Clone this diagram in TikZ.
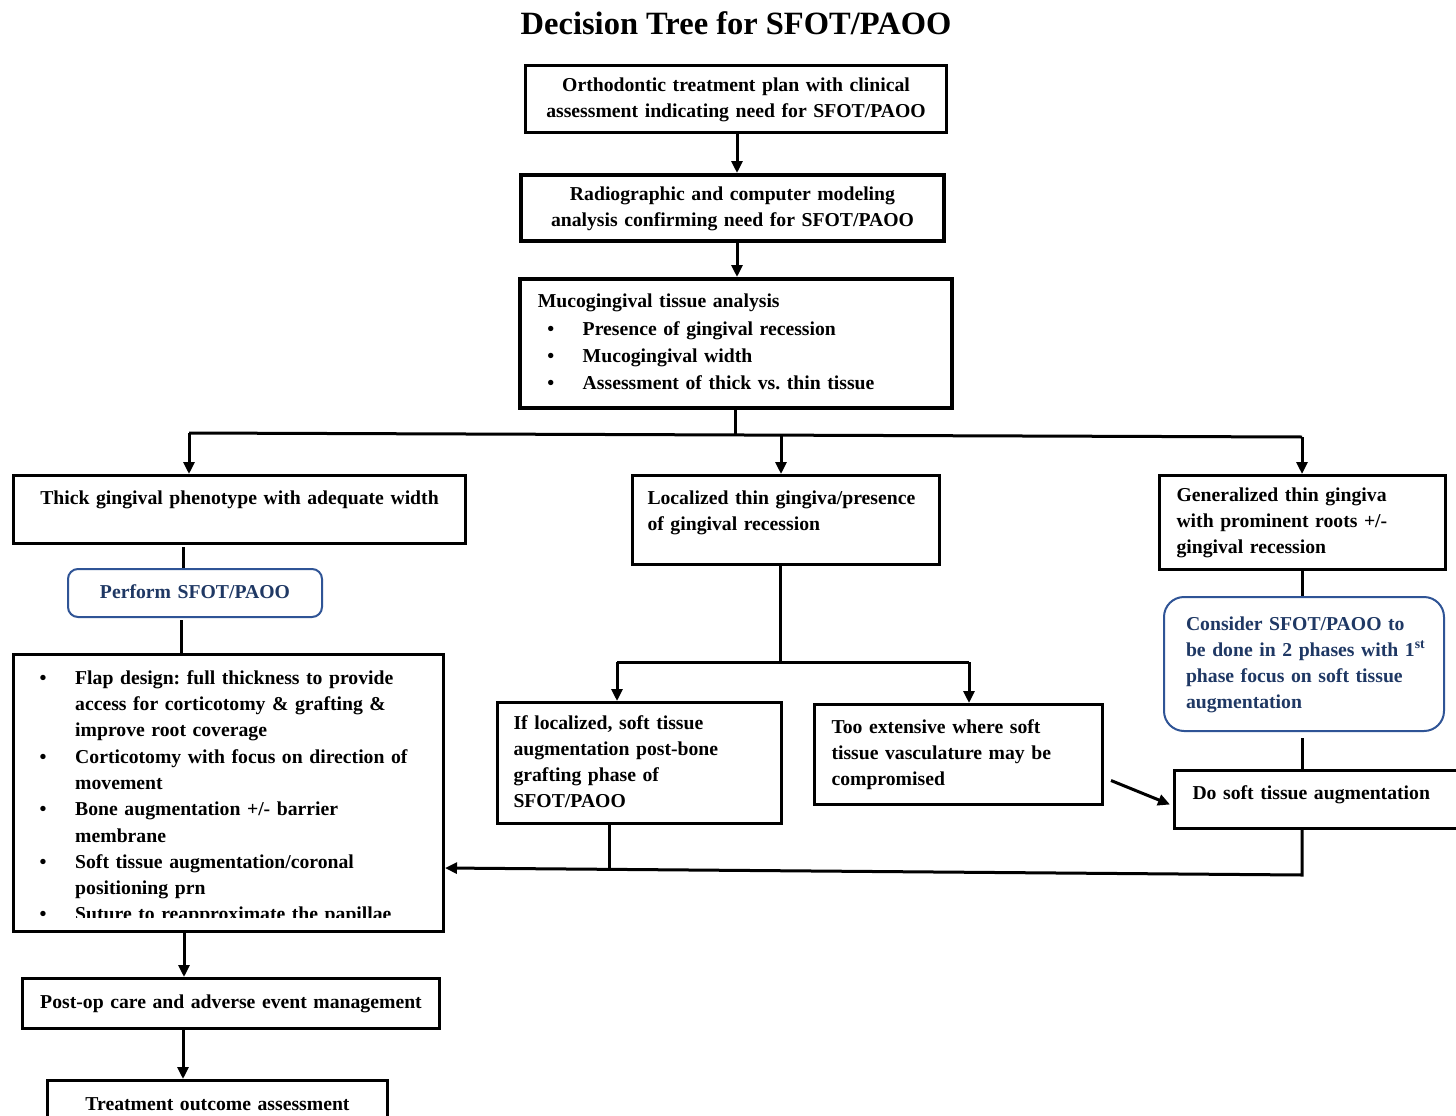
\documentclass[tikz,border=0pt]{standalone}
\usepackage{fontspec}
\setmainfont{Liberation Serif}
\usetikzlibrary{arrows.meta}
\definecolor{bluebd}{RGB}{47,84,150}
\definecolor{bluetx}{RGB}{31,56,100}
\begin{document}
\begin{tikzpicture}[x=1pt,y=-1pt,
  every node/.style={font=\bfseries\frenchspacing\fontsize{19.7}{26}\selectfont, execute at begin node=\strut, execute at end node=\strut},
  box/.style={draw, line width=3pt, anchor=north west, inner ysep=0pt, inner xsep=10pt, align=center},
  lbox/.style={box, align=left},
  rbox/.style={draw=bluebd, line width=2pt, anchor=north west, inner ysep=0pt, text=bluetx},
  conn/.style={line width=3pt},
  arr/.style={conn, -{Triangle[length=12pt,width=11pt]}},
]
\fill[white] (0,0) rectangle (1456,1116);
\useasboundingbox (0,0) rectangle (1456,1116);

\node[font=\bfseries\fontsize{32.5}{38}\selectfont] (title) at (736,27) {Decision Tree for SFOT/PAOO};

\node[box, minimum width=421pt, minimum height=67pt, text width=401pt] (n1) at (524,64)
  {Orthodontic treatment plan with clinical\\assessment indicating need for SFOT/PAOO};
\node[box, line width=4pt, minimum width=423pt, minimum height=66pt, text width=403pt] (n2) at (519,173)
  {Radiographic and computer modeling\\analysis confirming need for SFOT/PAOO};
\node[lbox, line width=3.5pt, minimum width=432pt, minimum height=129pt, inner xsep=18pt, text width=396pt,
  font=\bfseries\frenchspacing\fontsize{19.7}{27.3}\selectfont] (n3) at (518,277)
  {Mucogingival tissue analysis\\
   \hspace*{9.5pt}\makebox[35.5pt][l]{\textbullet}Presence of gingival recession\\
   \hspace*{9.5pt}\makebox[35.5pt][l]{\textbullet}Mucogingival width\\
   \hspace*{9.5pt}\makebox[35.5pt][l]{\textbullet}Assessment of thick vs. thin tissue};

\node[box, minimum width=452pt, minimum height=68pt, text width=432pt] (n4) at (12,474)
  {Thick gingival phenotype with adequate width\\[-5.6pt]\mbox{}};
\node[rbox, rounded corners=10pt, minimum width=254pt, minimum height=48pt, text width=234pt, inner xsep=10pt, align=center] (pf) at (67,568)
  {Perform SFOT/PAOO};
\node[box, minimum width=430pt, minimum height=277pt] (flap) at (12,653) {};
\begin{scope}
\clip (12,653) rectangle (442,917.5);
\node[anchor=north west, inner sep=0pt, align=left, text width=400pt,
  font=\bfseries\frenchspacing\fontsize{19.7}{26.3}\selectfont] (flaptxt) at (39.5,665.6)
  {\makebox[35.5pt][l]{\textbullet}Flap design: full thickness to provide\\
   \hspace*{35.5pt}access for corticotomy \& grafting \&\\
   \hspace*{35.5pt}improve root coverage\\
   \makebox[35.5pt][l]{\textbullet}Corticotomy with focus on direction of\\
   \hspace*{35.5pt}movement\\
   \makebox[35.5pt][l]{\textbullet}Bone augmentation +/- barrier\\
   \hspace*{35.5pt}membrane\\
   \makebox[35.5pt][l]{\textbullet}Soft tissue augmentation/coronal\\
   \hspace*{35.5pt}positioning prn\\
   \makebox[35.5pt][l]{\textbullet}Suture to reapproximate the papillae};
\end{scope}
\node[box, minimum width=417pt, minimum height=50pt, text width=397pt] (po) at (21,977)
  {Post-op care and adverse event management};
\node[box, minimum width=340pt, minimum height=50pt, text width=320pt] (tr) at (46,1079)
  {Treatment outcome assessment};

\node[lbox, minimum width=307pt, minimum height=89pt, inner xsep=15pt, text width=277pt] (n5) at (631,474)
  {Localized thin gingiva/presence\\of gingival recession\\[-10.6pt]\mbox{}};
\node[lbox, minimum width=284pt, minimum height=121pt, inner xsep=16pt, text width=252pt] (n6) at (496,701)
  {If localized, soft tissue\\augmentation post-bone\\grafting phase of\\SFOT/PAOO};
\node[lbox, minimum width=288pt, minimum height=100pt, inner xsep=17pt, text width=254pt] (n7) at (813,703)
  {Too extensive where soft\\tissue vasculature may be\\compromised};

\node[lbox, minimum width=286pt, minimum height=94pt, inner xsep=17pt, text width=252pt] (n8) at (1158,474)
  {Generalized thin gingiva\\with prominent roots +/-\\gingival recession};
\node[rbox, rounded corners=20pt, minimum width=280pt, minimum height=134pt, inner xsep=22pt, text width=236pt, align=left] (cs) at (1163,596)
  {\mbox{Consider SFOT/PAOO to}\\\mbox{be done in 2 phases with 1\textsuperscript{st}}\\\mbox{phase focus on soft tissue}\\\mbox{augmentation}};
\node[lbox, minimum width=310pt, minimum height=58pt, inner xsep=18pt, text width=274pt] (n9) at (1173,769)
  {Do soft tissue augmentation\\[-15.6pt]\mbox{}};

% connectors
\coordinate (bj) at (735,434);
\coordinate (bl) at (189,433);
\coordinate (bm) at (781,435);
\coordinate (br) at (1302,437);
\coordinate (mj) at (780,662);
\coordinate (ml) at (617,662);
\coordinate (mr) at (969,662);
\coordinate (ret) at (1302,875);
\coordinate (rj) at (609,868);

\draw[arr] (n1.south-|737,0) -- (n2.north-|737,0);
\draw[arr] (n2.south-|737,0) -- (n3.north-|737,0);
\draw[conn] (n3.south-|735,0) -- (bj);
\draw[conn] (bl) -- (br);
\draw[arr] (bl) -- (n4.north-|bl);
\draw[arr] (bm) -- (n5.north-|bm);
\draw[arr] (br) -- (n8.north-|br);

\draw[conn] ([yshift=-2pt]n4.south-|183,0) -- (pf.north-|183,0);
\draw[conn] ([yshift=-2pt]pf.south-|181,0) -- (flap.north-|181,0);
\draw[arr] (flap.south-|184,0) -- (po.north-|184,0);
\draw[arr] (po.south-|183,0) -- (tr.north-|183,0);

\draw[conn] (n5.south-|mj) -- (mj);
\draw[conn] (ml) -- (mr);
\draw[arr] (ml) -- (n6.north-|ml);
\draw[arr] (mr) -- (n7.north-|mr);

\draw[arr] ([shift={(7,26)}]n7.east) -- ([shift={(-3,5)}]n9.west);

\draw[conn] (n8.south-|1302,0) -- (cs.north-|1302,0);
\draw[conn] ([yshift=-6pt]cs.south-|1302,0) -- (n9.north-|1302,0);

\draw[conn] (n6.south-|rj) -- (rj);
\draw[arr] (n9.south-|ret) -- (ret) -- (flap.east|-rj);
\end{tikzpicture}
\end{document}
